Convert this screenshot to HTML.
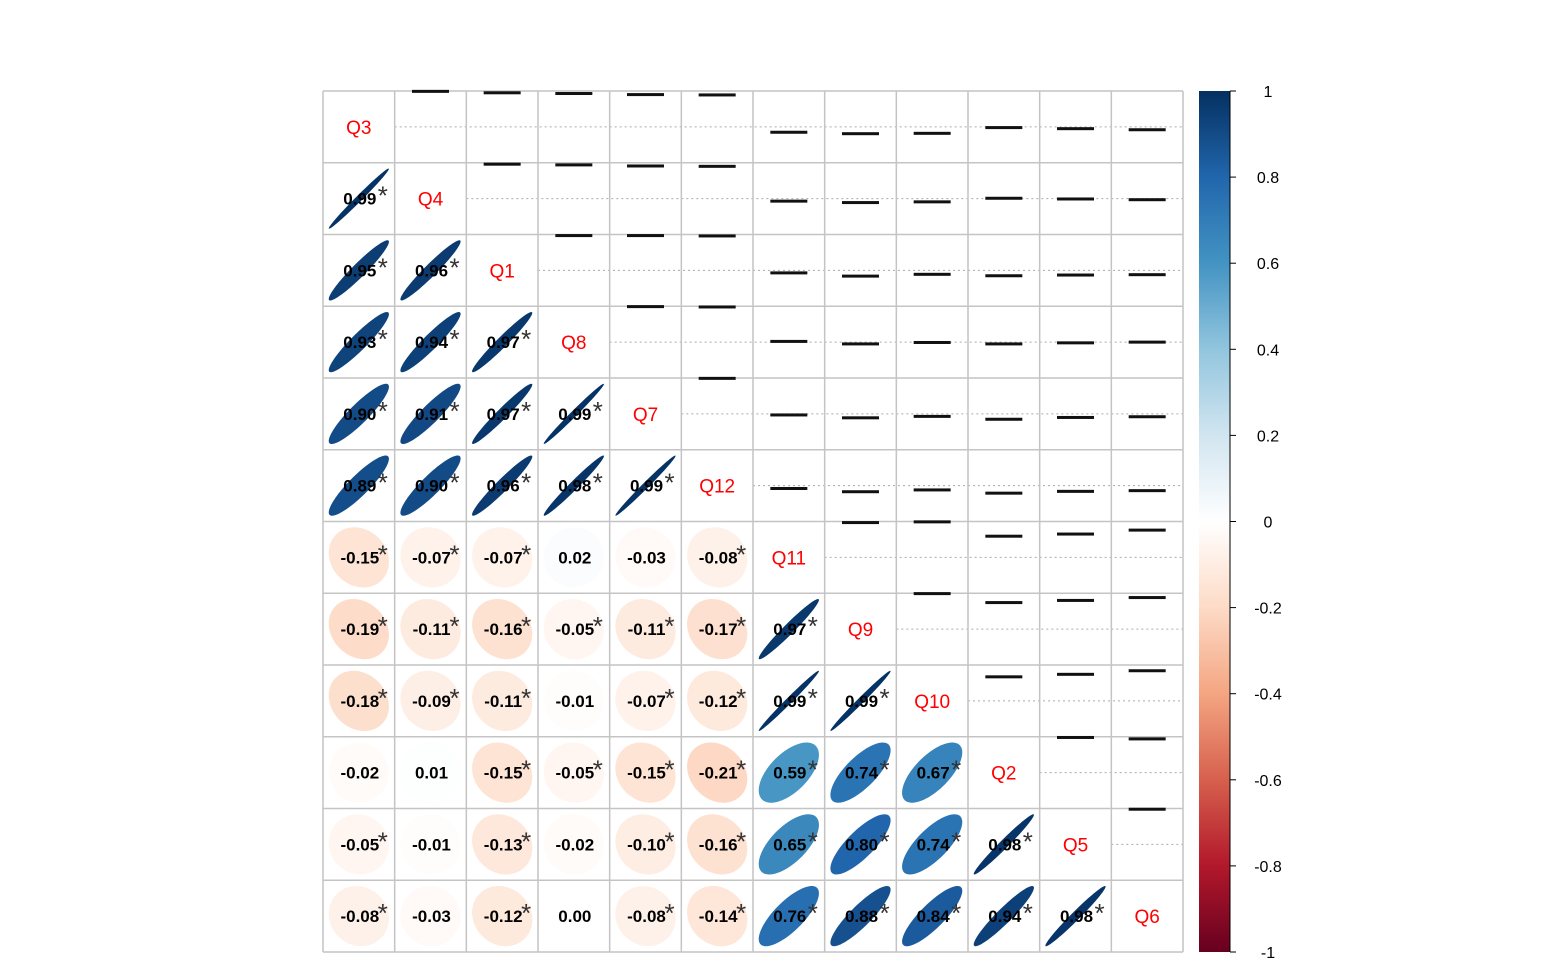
<!DOCTYPE html>
<html><head><meta charset="utf-8"><style>
html,body{margin:0;padding:0;background:#fff;}
svg{display:block;font-family:"Liberation Sans",sans-serif;}
</style></head><body>
<svg id="chart" width="1542" height="975" viewBox="0 0 1542 975" xmlns="http://www.w3.org/2000/svg"></svg>
<script>
const variables = ["Q3","Q4","Q1","Q8","Q7","Q12","Q11","Q9","Q10","Q2","Q5","Q6"];
const lowerValues = [
  [],
  [0.99],
  [0.95,0.96],
  [0.93,0.94,0.97],
  [0.90,0.91,0.97,0.99],
  [0.89,0.90,0.96,0.98,0.99],
  [-0.15,-0.07,-0.07,0.02,-0.03,-0.08],
  [-0.19,-0.11,-0.16,-0.05,-0.11,-0.17,0.97],
  [-0.18,-0.09,-0.11,-0.01,-0.07,-0.12,0.99,0.99],
  [-0.02,0.01,-0.15,-0.05,-0.15,-0.21,0.59,0.74,0.67],
  [-0.05,-0.01,-0.13,-0.02,-0.10,-0.16,0.65,0.80,0.74,0.98],
  [-0.08,-0.03,-0.12,0.00,-0.08,-0.14,0.76,0.88,0.84,0.94,0.98]
];
const significant = [
  [],
  [1],
  [1,1],
  [1,1,1],
  [1,1,1,1],
  [1,1,1,1,1],
  [1,1,1,0,0,1],
  [1,1,1,1,1,1,1],
  [1,1,1,0,1,1,1,1],
  [0,0,1,1,1,1,1,1,1],
  [1,0,1,0,1,1,1,1,1,1],
  [1,0,1,0,1,1,1,1,1,1,1]
];
const colorbarTicks = [1,0.8,0.6,0.4,0.2,0,-0.2,-0.4,-0.6,-0.8,-1];

const NS="http://www.w3.org/2000/svg";
const svg=document.getElementById('chart');
const L=323,T=91,R=1183,B=952,n=variables.length;
const cw=(R-L)/n, ch=(B-T)/n;
const cx=j=>L+cw*(j+0.5), cy=i=>T+ch*(i+0.5);
function mk(tag,attrs,parent){const e=document.createElementNS(NS,tag);for(const k in attrs)e.setAttribute(k,attrs[k]);(parent||svg).appendChild(e);return e;}
const stops=[[-1,"#67001F"],[-0.8,"#B2182B"],[-0.6,"#D6604D"],[-0.4,"#F4A582"],[-0.2,"#FDDBC7"],[0,"#FFFFFF"],[0.2,"#D1E5F0"],[0.4,"#92C5DE"],[0.6,"#4393C3"],[0.8,"#2166AC"],[1,"#053061"]];
function hex(h){return [1,3,5].map(k=>parseInt(h.substr(k,2),16));}
function col(r){for(let k=0;k<stops.length-1;k++){const [a,ca]=stops[k],[b,cb]=stops[k+1];if(r<=b){const t=(r-a)/(b-a),A=hex(ca),Bc=hex(cb);return "rgb("+A.map((v,q)=>Math.round(v+(Bc[q]-v)*t)).join(",")+")";}}return stops[10][1];}
function val(i,j){return i>j?lowerValues[i][j]:lowerValues[j][i];}

for(let i=0;i<n-1;i++){
  const l=mk('line',{x1:L+cw*(i+1),x2:R,y1:cy(i),y2:cy(i),stroke:"#aaaaaa","stroke-width":1,"stroke-dasharray":"2,3"});
  
  
}
const g=mk('g',{});


for(let k=0;k<=n;k++){
  mk('line',{x1:L+cw*k,x2:L+cw*k,y1:T,y2:B,stroke:"#c4c4c4","stroke-width":1.5},g);
  mk('line',{x1:L,x2:R,y1:T+ch*k,y2:T+ch*k,stroke:"#c4c4c4","stroke-width":1.5},g);
}
for(let i=0;i<n;i++){for(let j=0;j<n;j++){
  if(i===j){
    const t=mk('text',{x:cx(j),y:cy(i)+7,"text-anchor":"middle","font-size":19,fill:"#ff0000"});
    t.textContent=variables[i];
    
    
  } else if(i>j){
    const r=val(i,j),d=Math.acos(Math.max(-1,Math.min(1,r)));
    const s=cw*0.42;let pts=[];
    for(let k=0;k<100;k++){const t=2*Math.PI*k/100;pts.push((cx(j)+s*Math.cos(t+d/2)).toFixed(2)+","+(cy(i)-s*Math.cos(t-d/2)).toFixed(2));}
    const e=mk('polygon',{points:pts.join(" "),fill:col(r)});
    
    
    const t=mk('text',{x:cx(j)+1,y:cy(i)+6,"text-anchor":"middle","font-size":17,"font-weight":"bold",fill:"#000"});
    t.textContent=r.toFixed(2);
    
    
    if(significant[i][j]){
      const st=mk('text',{x:cx(j)+24,y:cy(i)+6,"text-anchor":"middle","font-size":26,fill:"#333"});
      st.textContent="*";
      
      
    }
  } else {
    const r=val(i,j);
    const b=mk('rect',{x:cx(j)-18.5,y:cy(i)-r*ch/2-1.5,width:37,height:3,fill:"#111"});
    
    
  }
}}
const defs=mk('defs',{});
const lg=mk('linearGradient',{id:"cb",x1:0,y1:1,x2:0,y2:0},defs);
stops.forEach(([v,c])=>mk('stop',{offset:((v+1)/2),"stop-color":c},lg));
const cb=mk('rect',{x:1199,y:T,width:31,height:B-T,fill:"url(#cb)"});


mk('line',{x1:1230,x2:1230,y1:T,y2:B,stroke:"#000","stroke-width":1});
colorbarTicks.forEach(v=>{
  const y=T+(1-v)/2*(B-T);
  mk('line',{x1:1230,x2:1236,y1:y,y2:y,stroke:"#000","stroke-width":1});
  const t=mk('text',{x:1268,y:y+6,"text-anchor":"middle","font-size":16,fill:"#000"});
  t.textContent=String(v);
  
  
});
</script>
</body></html>
